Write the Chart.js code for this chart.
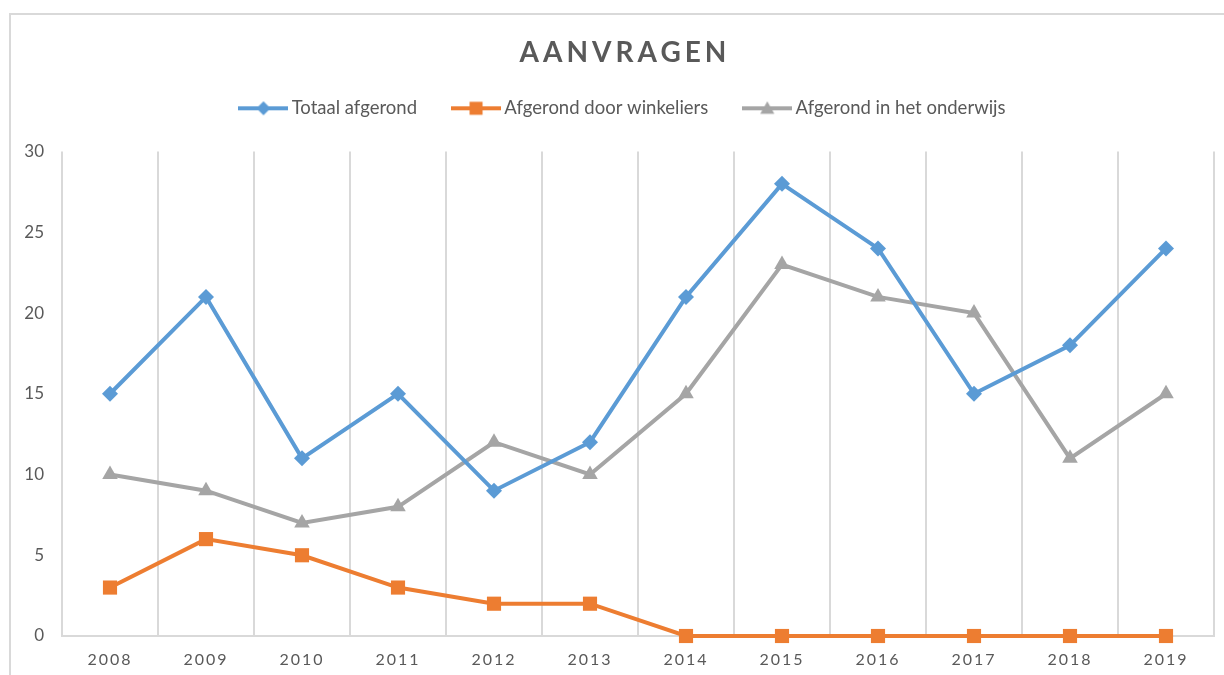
<!DOCTYPE html>
<html>
<head>
<meta charset="utf-8">
<title>Aanvragen</title>
<script src="https://cdn.jsdelivr.net/npm/chart.js@4.4.1/dist/chart.umd.min.js"></script>
<style>
  html, body { margin: 0; padding: 0; background: #fff; }
  #wrap { position: relative; width: 1224px; height: 675px; overflow: hidden; }
  #frame { position: absolute; left: 9px; top: 13px; width: 1400px; height: 800px;
           border-top: 2px solid #d9d9d9; border-left: 2px solid #d9d9d9; }
  #chart { position: absolute; left: 0; top: 0; }
</style>
</head>
<body>
<div id="wrap">
  <div id="frame"></div>
  <canvas id="chart" width="1224" height="675"></canvas>
</div>
<script>
var years = ['2008', '2009', '2010', '2011', '2012', '2013', '2014', '2015', '2016', '2017', '2018', '2019'];
var totaalAfgerond = [15, 21, 11, 15, 9, 12, 21, 28, 24, 15, 18, 24];
var doorWinkeliers = [3, 6, 5, 3, 2, 2, 0, 0, 0, 0, 0, 0];
var inOnderwijs = [10, 9, 7, 8, 12, 10, 15, 23, 21, 20, 11, 15];
var seriesNames = ['Totaal afgerond', 'Afgerond door winkeliers', 'Afgerond in het onderwijs'];
var yMin = 0, yMax = 30, yStep = 5;

var BLUE = '#5b9bd5', ORANGE = '#ed7d31', GREY = '#a5a5a5';
var TEXT = '#595959', GRID = '#d9d9d9';
var FONT = 'Lato, "Open Sans", sans-serif';
var LEGEND_GAP = 24;

// small line + marker picture for the legend
function legendSample(color, style, r) {
  var c = document.createElement('canvas');
  c.width = 50; c.height = 20;
  var g = c.getContext('2d');
  g.strokeStyle = color; g.fillStyle = color; g.lineWidth = 4;
  g.beginPath(); g.moveTo(0, 10); g.lineTo(50, 10); g.stroke();
  g.beginPath();
  if (style === 'rectRot') {
    g.moveTo(25, 10 - r); g.lineTo(25 + r, 10); g.lineTo(25, 10 + r); g.lineTo(25 - r, 10);
  } else if (style === 'rect') {
    g.rect(25 - r, 10 - r, 2 * r, 2 * r);
  } else {
    g.moveTo(25, 10 - r); g.lineTo(25 + r, 10 + r * 0.8); g.lineTo(25 - r, 10 + r * 0.8);
  }
  g.closePath(); g.fill();
  return c;
}
var samples = [legendSample(BLUE, 'rectRot', 7), legendSample(ORANGE, 'rect', 6.5), legendSample(GREY, 'triangle', 7)];

function spaced(obj, method, spacing) {
  if (!obj || obj['_sp_' + method]) return;
  var orig = obj[method];
  obj[method] = function () {
    var ctx = this.ctx;
    ctx.letterSpacing = spacing;
    orig.apply(this, arguments);
    ctx.letterSpacing = '0px';
  };
  obj['_sp_' + method] = true;
}

var tweaks = {
  id: 'tweaks',
  beforeLayout: function (chart) {
    var leg = chart.legend;
    if (leg && !leg._tweaked) {
      var fit = leg.fit;
      leg.fit = function () { fit.call(this); this.height += LEGEND_GAP; };
      leg._tweaked = true;
    }
  },
  beforeDraw: function (chart) {
    spaced(chart.titleBlock, 'draw', '4px');
    spaced(chart.scales.x, 'drawLabels', '2px');
    // y labels sit left of the narrow axis box, so do not clip them to it
    var y = chart.scales.y;
    if (y && !y._noClip) { y._computeLabelArea = function () { return null; }; y._noClip = true; }
  }
};

function line(label, values, color, style, radius) {
  return {
    label: label,
    data: values,
    borderColor: color,
    backgroundColor: color,
    pointBackgroundColor: color,
    pointBorderColor: color,
    borderWidth: 4,
    pointStyle: style,
    pointRadius: radius,
    pointBorderWidth: 0,
    tension: 0,
    clip: false
  };
}

var chart = new Chart(document.getElementById('chart'), {
  type: 'line',
  data: {
    labels: years,
    datasets: [
      line(seriesNames[0], totaalAfgerond, BLUE, 'rectRot', 8),
      line(seriesNames[1], doorWinkeliers, ORANGE, 'rect', 10),
      line(seriesNames[2], inOnderwijs, GREY, 'triangle', 9)
    ]
  },
  options: {
    responsive: false,
    devicePixelRatio: 1,
    animation: false,
    layout: { padding: { top: 0, left: 36, right: 10, bottom: 0 } },
    plugins: {
      tooltip: { enabled: false },
      title: {
        display: true,
        text: 'AANVRAGEN',
        color: TEXT,
        font: { family: FONT, size: 28, weight: 'bold', lineHeight: 0.43 },
        padding: { top: 47, bottom: 0 }
      },
      legend: {
        position: 'top',
        labels: {
          usePointStyle: true,
          pointStyleWidth: 38,
          padding: 40,
          color: TEXT,
          font: { family: FONT, size: 18.5 },
          generateLabels: function (c) {
            return c.data.datasets.map(function (ds, i) {
              return { text: ds.label, pointStyle: samples[i], fillStyle: ds.borderColor,
                       strokeStyle: ds.borderColor, lineWidth: 0, hidden: false,
                       datasetIndex: i, fontColor: TEXT };
            });
          }
        }
      }
    },
    scales: {
      x: {
        offset: true,
        grid: { offset: true, color: GRID, lineWidth: 2, drawTicks: false },
        border: { display: true, color: GRID, width: 2 },
        ticks: { color: TEXT, font: { family: FONT, size: 16 }, padding: 14, autoSkip: false, maxRotation: 0 },
        afterFit: function (s) { s.height = 39; }
      },
      y: {
        min: yMin,
        max: yMax,
        grid: { display: false, drawTicks: false },
        border: { display: false },
        ticks: { stepSize: yStep, color: TEXT, font: { family: FONT, size: 17 }, padding: 18 },
        afterFit: function (s) { s.width = 26; }
      }
    }
  },
  plugins: [tweaks]
});
</script>
</body>
</html>
